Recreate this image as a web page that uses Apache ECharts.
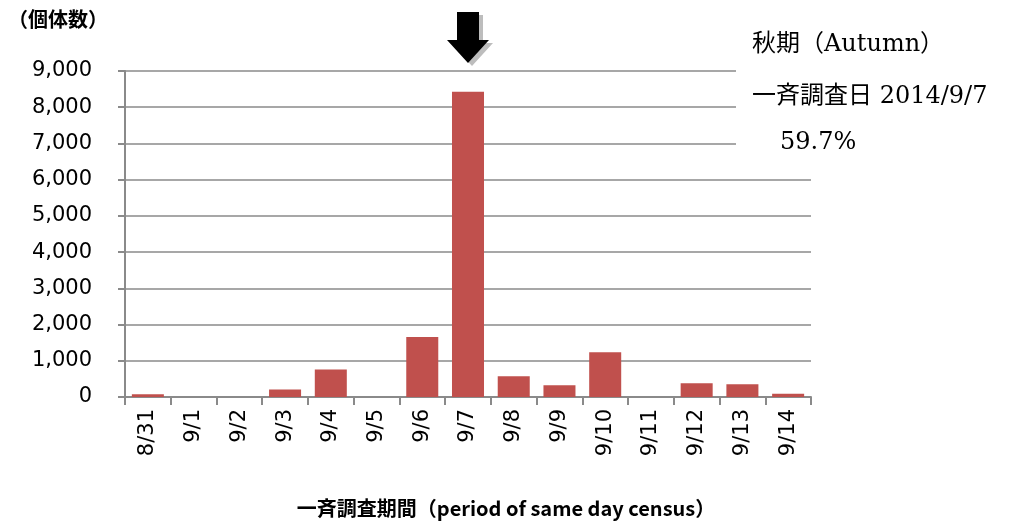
<!DOCTYPE html>
<html><head><meta charset="utf-8">
<script src="https://cdn.jsdelivr.net/npm/echarts@6/dist/echarts.min.js"></script>
<style>html,body{margin:0;padding:0;background:#fff}#c{width:1011px;height:522px}</style>
</head><body><div id="c"></div>
<script>
const categories = ['8/31','9/1','9/2','9/3','9/4','9/5','9/6','9/7','9/8','9/9','9/10','9/11','9/12','9/13','9/14'];
const counts = [75, 0, 0, 205, 760, 0, 1657, 8430, 575, 325, 1233, 0, 380, 353, 93];
const yTicks = [0, 1000, 9000];
const yAxisTitle = '（個体数）';
const xAxisTitle = '一斉調査期間（period of same day census）';
const noteLines = ['秋期（Autumn）', '一斉調査日 2014/9/7', '59.7%'];
const peakCategory = '9/7';

const chart = echarts.init(document.getElementById('c'), null, {renderer:'canvas'});
const sans = '"DejaVu Sans", "Noto Sans CJK JP", sans-serif';
const serif = '"DejaVu Serif", "Noto Sans CJK JP", serif';
chart.setOption({
  animation: false,
  grid: {left: 125, right: 200, top: 71, bottom: 125},
  xAxis: {
    type: 'category', data: categories,
    axisLine: {lineStyle: {color: '#8a8a8a', width: 2}},
    axisTick: {show: true, length: 8, lineStyle: {color: '#8a8a8a', width: 2}},
    axisLabel: {rotate: 90, margin: 12, fontSize: 21, color: '#000', fontFamily: sans}
  },
  yAxis: {
    type: 'value', min: yTicks[0], max: yTicks[2], interval: yTicks[1],
    axisLine: {show: true, lineStyle: {color: '#8a8a8a', width: 2}},
    axisTick: {show: true, length: 7, lineStyle: {color: '#8a8a8a', width: 2}},
    splitLine: {lineStyle: {color: '#8a8a8a', width: 1.5}},
    axisLabel: {margin: 33, fontSize: 21, color: '#000', fontFamily: sans,
      formatter: v => v.toLocaleString('en-US')}
  },
  series: [{
    type: 'bar', data: counts, barWidth: '70%',
    itemStyle: {color: '#c0504d'}
  }]
});

const px = chart.convertToPixel({xAxisIndex:0, yAxisIndex:0}, [peakCategory, 0]);
const ax = px[0];
function arrowPts(dx, dy) {
  return [[ax-11+dx,12+dy],[ax+11+dx,12+dy],[ax+11+dx,40+dy],[ax+21+dx,40+dy],[ax+dx,63+dy],[ax-21+dx,40+dy],[ax-11+dx,40+dy]];
}
chart.setOption({
  graphic: [
    {type:'polygon', shape:{points: arrowPts(4,3)}, style:{fill:'#bdbdbd'}, z: 10},
    {type:'polygon', shape:{points: arrowPts(0,0)}, style:{fill:'#000'}, z: 11},
    {type:'rect', shape:{x:736, y:20, width:275, height:152}, style:{fill:'#fff'}, z: 10},
    {type:'text', left: 752, top: 33, style:{text: noteLines[0], font: '24px ' + serif, fill:'#000'}, z: 11},
    {type:'text', left: 752, top: 85, style:{text: noteLines[1], font: '24px ' + serif, fill:'#000'}, z: 11},
    {type:'text', left: 780, top: 131, style:{text: noteLines[2], font: '24px ' + serif, fill:'#000'}, z: 11},
    {type:'text', left: 8, top: 9, style:{text: yAxisTitle, font: 'bold 20px "Noto Sans CJK JP", sans-serif', fill:'#000'}, z: 11},
    {type:'text', x: 506, y: 508, style:{text: xAxisTitle, font: 'bold 20px "Noto Sans CJK JP", sans-serif', fill:'#000', textAlign:'center', textVerticalAlign:'middle'}, z: 11}
  ]
});
</script></body></html>
